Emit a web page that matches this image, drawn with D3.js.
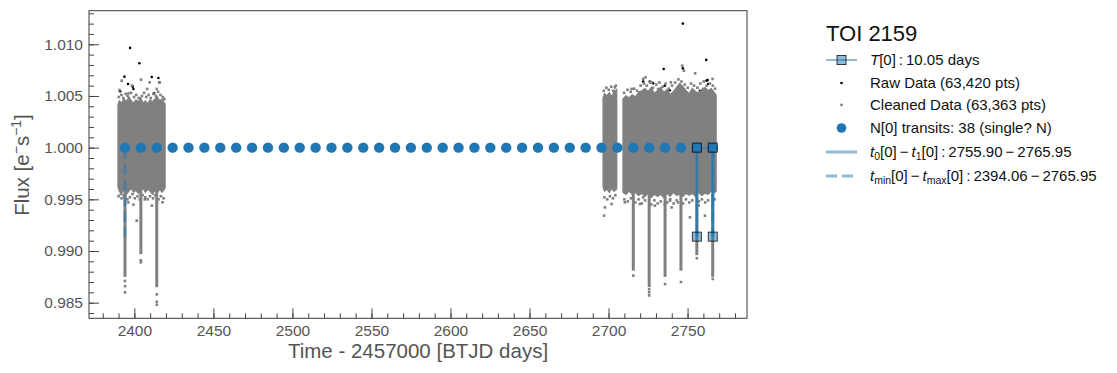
<!DOCTYPE html>
<html><head><meta charset="utf-8">
<script src="https://cdn.jsdelivr.net/npm/d3@7/dist/d3.min.js"></script>
<style>
body{margin:0;background:#fff;}
svg{display:block;font-family:"Liberation Sans",Arial,sans-serif;}
</style></head>
<body><svg id="c" width="1117" height="373"></svg>
<script>
// ---------------- data ----------------
const xTicks = [2400, 2450, 2500, 2550, 2600, 2650, 2700, 2750];
const yTicks = [0.985, 0.990, 0.995, 1.000, 1.005, 1.010];
const yTickLabels = ["0.985", "0.990", "0.995", "1.000", "1.005", "1.010"];

// envelope of the dense cleaned-data band (segment id, time, upper, lower)
const bandSeg = [0,0,0,0,0,0,0,0,0,0,0,0,0,0,0,0,0,0,0,0,0,
  1,1,1,1,1,1,1,
  2,2,2,2,2,2,2,2,2,2,2,2,2,2,2,2,2,2,2,2,2,2,2,2,2,2,2,2,2,2,2];
const bandT = [2389.7,2390.5,2392,2393.5,2395,2396.5,2398,2399.5,2401,2402.5,2404,2405.5,2407,2408.5,2410,2411.5,2413,2414.5,2416,2417.5,2419.4,
  2696.6,2697.5,2699,2700.5,2702,2703.5,2705.1,
  2709.2,2711,2713,2715,2717,2719,2721,2723,2725,2727,2729,2731,2733,2735,2737,2739,2741,2743,2745,2747,2749,2751,2753,2755,2757,2759,2761,2763,2765,2766.5,2768];
const bandHi = [1.0041,1.0045,1.0043,1.0047,1.0044,1.0049,1.0045,1.0043,1.0046,1.0044,1.0048,1.0043,1.0045,1.0042,1.0046,1.0044,1.0047,1.0049,1.0045,1.0047,1.0042,
  1.0048,1.0052,1.0050,1.0053,1.0049,1.0054,1.0056,
  1.0047,1.0050,1.0048,1.0051,1.0049,1.0053,1.0055,1.0057,1.0054,1.0058,1.0052,1.0055,1.0058,1.0053,1.0056,1.0051,1.0054,1.0058,1.0062,1.0059,1.0055,1.0052,1.0057,1.0054,1.0053,1.0056,1.0058,1.0055,1.0057,1.0054,1.0051];
const bandLo = [0.9962,0.9958,0.9956,0.9960,0.9955,0.9958,0.9961,0.9957,0.9959,0.9956,0.9958,0.9961,0.9957,0.9960,0.9958,0.9955,0.9959,0.9956,0.9960,0.9957,0.9961,
  0.9962,0.9958,0.9960,0.9957,0.9961,0.9958,0.9960,
  0.9957,0.9955,0.9958,0.9955,0.9957,0.9954,0.9956,0.9953,0.9956,0.9952,0.9955,0.9953,0.9955,0.9952,0.9956,0.9953,0.9957,0.9954,0.9955,0.9953,0.9956,0.9954,0.9956,0.9953,0.9957,0.9954,0.9956,0.9955,0.9958,0.9956,0.9958];

// transit dips visible in the cleaned data
const dipT   = [2394.06, 2404.11, 2414.16, 2715.66, 2725.71, 2735.76, 2745.81, 2755.86, 2765.91];
const dipTop = [0.9960, 0.9960, 0.9960, 0.9956, 0.9956, 0.9956, 0.9956, 0.9956, 0.9956];
const dipLow = [0.9875, 0.9897, 0.9865, 0.9881, 0.9865, 0.9875, 0.9881, 0.9896, 0.9875];

// scattered cleaned points outside the dense band
const cleanT = [2394.1,2394.1,2394.0,2404.1,2404.1,2414.2,2414.2,2414.2,
  2411.1,2414.2,2417.8,2399.4,2401.5,2391.4,2406.6,2396.2,
  2392.0,2398.4,2404.2,2409.7,2415.8,2414.2,2408.1,2396.3,2390.6,
  2721.9,2723.4,2727.2,2731.4,2739.4,2746.6,2747.7,2754.8,2759.9,2765.8,2704.0,2697.7,2714.6,2719.8,
  2697.2,2697.7,2701.9,2710.3,2719.8,2729.3,2739.9,2751.5,2761.0,2738.8,2721.9,2735.6,2744.0,2757.0,
  2715.66,2725.71,2725.71,2725.71,2735.76,2745.81,2765.91,2765.91,2755.86];
const cleanV = [0.9860,0.9866,0.9871,0.9889,0.9891,0.9848,0.9851,0.9858,
  0.99439,0.99455,0.99471,0.99448,0.99294,0.99552,0.9950,0.9947,
  1.00648,1.0060,1.00658,1.00632,1.00629,1.00568,1.00568,1.00525,1.00558,
  1.00665,1.0068,1.00632,1.00568,1.00632,1.00793,1.00745,1.00719,1.00568,1.00665,1.00583,1.00487,1.00568,1.00535,
  0.99342,0.99422,0.99455,0.99471,0.99455,0.99439,0.99422,0.99326,0.99342,0.99487,0.99519,0.9945,0.9947,0.9944,
  0.98762,0.9857,0.9860,0.9863,0.9868,0.9870,0.9873,0.9878,0.9893];

// fringe of cleaned points along the band edges
const fringeT = [2390.2,2391.8,2393.0,2394.5,2395.7,2397.9,2399.8,2401.2,2402.7,2404.8,2406.1,2407.5,2409.0,2410.4,2412.0,2413.6,2415.0,2416.5,2418.0,2419.0,
  2390.0,2391.9,2393.2,2395.6,2397.2,2398.8,2400.3,2402.0,2403.4,2405.2,2406.9,2408.4,2409.9,2411.8,2413.1,2415.3,2416.8,2418.5,
  2697.0,2698.6,2700.1,2701.7,2703.0,2704.6,2709.8,2712.0,2714.0,2716.2,2718.1,2720.3,2722.4,2724.2,2726.3,2728.1,2730.2,2732.2,2734.2,2736.1,2738.1,2740.2,2742.1,2744.2,2746.1,2748.2,2750.1,2752.2,2754.1,2756.2,2758.1,2760.2,2762.1,2764.1,2766.0,2767.4,
  2697.4,2699.2,2700.9,2702.8,2704.3,2710.0,2712.2,2714.1,2717.0,2719.0,2721.0,2723.1,2727.0,2729.0,2731.1,2733.0,2737.1,2739.0,2741.2,2743.1,2747.1,2749.0,2751.1,2753.0,2757.2,2759.1,2761.2,2763.0,2767.1];
const fringeV = [1.0049,1.0051,1.0048,1.0052,1.0050,1.0053,1.0049,1.0051,1.0048,1.0050,1.0053,1.0049,1.0051,1.0048,1.0052,1.0050,1.0054,1.0051,1.0049,1.0047,
  0.9953,0.9951,0.9954,0.9950,0.9952,0.9955,0.9951,0.9953,0.9950,0.9954,0.9952,0.9950,0.9953,0.9951,0.9954,0.9950,0.9953,0.9951,
  1.0055,1.0058,1.0056,1.0059,1.0055,1.0060,1.0053,1.0056,1.0054,1.0057,1.0055,1.0060,1.0062,1.0060,1.0063,1.0058,1.0061,1.0063,1.0059,1.0062,1.0057,1.0060,1.0063,1.0066,1.0064,1.0061,1.0058,1.0062,1.0060,1.0058,1.0062,1.0064,1.0060,1.0062,1.0060,1.0057,
  0.9952,0.9950,0.9953,0.9951,0.9954,0.9950,0.9948,0.9951,0.9947,0.9950,0.9946,0.9949,0.9945,0.9949,0.9946,0.9948,0.9947,0.9950,0.9946,0.9949,0.9946,0.9950,0.9947,0.9949,0.9948,0.9950,0.9947,0.9949,0.9950];

// raw-only points (removed during cleaning)
const rawT = [2397.3,2403.2,2393.7,2391.0,2411.0,2415.2,2415.8,2396.0,2399.0,2399.4,2412.5,
  2747.0,2761.8,2734.9,2747.0,2762.7,2721.9,2726.1,2728.2,2735.6,2738.7,2724.5,2732.9,2757.8,2762.0,2763.0,2760.8];
const rawV = [1.00965,1.00816,1.00687,1.00545,1.00684,1.00674,1.00632,1.00616,1.0059,1.00568,1.00525,
  1.0120,1.00849,1.00761,1.00767,1.00655,1.00639,1.00639,1.00622,1.0060,1.00556,1.00516,1.00513,1.00551,1.00648,1.00616,1.00487];

// predicted transit times (38)
const transits = [2394.06,2404.11,2414.16,2424.21,2434.26,2444.31,2454.36,2464.41,2474.46,2484.51,
  2494.56,2504.61,2514.66,2524.71,2534.76,2544.81,2554.86,2564.91,2574.96,2585.01,
  2595.06,2605.11,2615.16,2625.21,2635.26,2645.31,2655.36,2665.41,2675.46,2685.51,
  2695.56,2705.61,2715.66,2725.71,2735.76,2745.81,2755.86,2765.91];
const transitFlux = 1.000;

// period marker path, t0/t1 lines, tmin/tmax lines
const periodT = [2755.90, 2755.90, 2765.95, 2765.95];
const periodV = [0.99139, 1.000, 1.000, 0.99139];
const t01 = [2755.90, 2765.95];
const tMinMax = [2394.06, 2765.95];
const lineTop = 1.000, lineBottom = 0.99139;

// ---------------- drawing ----------------
const svg = d3.select("#c");
const L = 89, R = 747, T = 10.7, B = 318.3;
const x = d3.scaleLinear().domain([2371.3, 2787.6]).range([L, R]);
const y = d3.scaleLinear().domain([0.98349, 1.01325]).range([B, T]);
const blue = "#1f77b4", blueA = "rgba(31,119,180,0.5)";

svg.append("defs").append("clipPath").attr("id","clip")
  .append("rect").attr("x",L).attr("y",T).attr("width",R-L).attr("height",B-T);
const g = svg.append("g").attr("clip-path","url(#clip)");

// raw points
g.append("g").selectAll("circle").data(d3.range(rawT.length)).join("circle")
  .attr("cx", i => x(rawT[i])).attr("cy", i => y(rawV[i])).attr("r", 1.3).attr("fill", "#000");

// band
const area = d3.area().x(d => x(d.t)).y0(d => y(d.lo)).y1(d => y(d.hi));
const bandPts = d3.range(bandT.length).map(i => ({s: bandSeg[i], t: bandT[i], hi: bandHi[i], lo: bandLo[i]}));
d3.groups(bandPts, d => d.s).forEach(([s, pts]) => {
  g.append("path").attr("d", area(pts)).attr("fill", "#808080").attr("stroke", "#808080").attr("stroke-width", 1.5);
});
// dips
g.append("g").selectAll("rect").data(d3.range(dipT.length)).join("rect")
  .attr("x", i => x(dipT[i]) - 1.5).attr("width", 3)
  .attr("y", i => y(dipTop[i])).attr("height", i => y(dipLow[i]) - y(dipTop[i]))
  .attr("fill", "#808080");
// scattered cleaned points
const sq = (T_, V_) => g.append("g").selectAll("rect").data(d3.range(T_.length)).join("rect")
  .attr("x", i => x(T_[i]) - 1.3).attr("y", i => y(V_[i]) - 1.3)
  .attr("width", 2.6).attr("height", 2.6).attr("fill", "#808080");
sq(cleanT, cleanV);
sq(fringeT, fringeV);

// tmin/tmax dashed and t0/t1 solid lines
g.append("g").selectAll("line").data(tMinMax).join("line")
  .attr("x1", d => x(d)).attr("x2", d => x(d)).attr("y1", y(lineTop)).attr("y2", y(lineBottom))
  .attr("stroke", blueA).attr("stroke-width", 3).attr("stroke-dasharray", "11.1,4.8");
g.append("g").selectAll("line").data(t01).join("line")
  .attr("x1", d => x(d)).attr("x2", d => x(d)).attr("y1", y(lineTop)).attr("y2", y(lineBottom))
  .attr("stroke", blueA).attr("stroke-width", 3);

// transit circles
g.append("g").selectAll("circle").data(transits).join("circle")
  .attr("cx", d => x(d)).attr("cy", y(transitFlux)).attr("r", 5.2).attr("fill", blue);

// period path with square markers
const pp = d3.range(periodT.length).map(i => [x(periodT[i]), y(periodV[i])]);
g.append("path").attr("d", d3.line()(pp)).attr("fill", "none").attr("stroke", blueA).attr("stroke-width", 2);
g.append("g").selectAll("rect").data(pp).join("rect")
  .attr("x", d => d[0] - 4.5).attr("y", d => d[1] - 4.5).attr("width", 9).attr("height", 9)
  .attr("fill", blueA).attr("stroke", "rgba(0,0,0,0.75)").attr("stroke-width", 1);

// axes
const tickCol = "#444", labCol = "#555";
const xAxis = d3.axisBottom(x).tickValues(xTicks).tickFormat(d3.format("d")).tickSizeInner(-10).tickSizeOuter(0).tickPadding(7);
const xMinor = d3.axisBottom(x).tickValues(d3.range(2380, 2790, 10)).tickFormat("").tickSizeInner(-5).tickSizeOuter(0);
const yAxis = d3.axisLeft(y).tickValues(yTicks).tickFormat((d,i) => yTickLabels[i]).tickSizeInner(-10).tickSizeOuter(0).tickPadding(6);
const yMinor = d3.axisLeft(y).tickValues(d3.range(984, 1014).map(v => v / 1000)).tickFormat("").tickSizeInner(-5).tickSizeOuter(0);

function style(sel){
  sel.select(".domain").remove();
  sel.selectAll("line").attr("stroke", tickCol).attr("stroke-width", 1);
  sel.selectAll("text").attr("fill", labCol).attr("font-size", 15.5).attr("font-family", '"Liberation Sans",Arial,sans-serif');
}
svg.append("g").attr("transform", `translate(0,${B})`).call(xMinor).call(style);
svg.append("g").attr("transform", `translate(0,${B})`).call(xAxis).call(style);
svg.append("g").attr("transform", `translate(${L},0)`).call(yMinor).call(style);
svg.append("g").attr("transform", `translate(${L},0)`).call(yAxis).call(style);

svg.append("rect").attr("x", L).attr("y", T).attr("width", R-L).attr("height", B-T)
  .attr("fill", "none").attr("stroke", "#3a3a3a").attr("stroke-width", 1);

// axis labels
svg.append("text").attr("x", (L+R)/2).attr("y", 358).attr("text-anchor", "middle")
  .attr("font-size", 20.5).attr("fill", labCol).text("Time - 2457000 [BTJD days]");
const yl = svg.append("text").attr("transform", "translate(29,165) rotate(-90)").attr("text-anchor", "middle")
  .attr("font-size", 20.5).attr("fill", labCol);
yl.append("tspan").text("Flux [e");
yl.append("tspan").attr("font-size", 14).attr("dy", -8).text("−");
yl.append("tspan").attr("dy", 8).text("s");
yl.append("tspan").attr("font-size", 14).attr("dy", -8).text("−1");
yl.append("tspan").attr("dy", 8).text("]");

// legend
const lg = svg.append("g");
lg.append("text").attr("x", 826).attr("y", 41).attr("font-size", 22).attr("fill", "#111").text("TOI 2159");
const hx0 = 826, hx1 = 857, hc = 841.5, tx = 870;
const rows = [60, 83, 105, 128, 152, 176];
lg.append("line").attr("x1", hx0).attr("x2", hx1).attr("y1", rows[0]).attr("y2", rows[0]).attr("stroke", blueA).attr("stroke-width", 2);
lg.append("rect").attr("x", hc-4.5).attr("y", rows[0]-4.5).attr("width", 9).attr("height", 9).attr("fill", blueA).attr("stroke", "rgba(0,0,0,0.75)");
lg.append("circle").attr("cx", hc).attr("cy", rows[1]).attr("r", 1.3).attr("fill", "#000");
lg.append("circle").attr("cx", hc).attr("cy", rows[2]).attr("r", 1.4).attr("fill", "#808080");
lg.append("circle").attr("cx", hc).attr("cy", rows[3]).attr("r", 4.8).attr("fill", blue);
lg.append("line").attr("x1", hx0).attr("x2", hx1).attr("y1", rows[4]).attr("y2", rows[4]).attr("stroke", blueA).attr("stroke-width", 3);
lg.append("line").attr("x1", hx0).attr("x2", hx1).attr("y1", rows[5]).attr("y2", rows[5]).attr("stroke", blueA).attr("stroke-width", 3).attr("stroke-dasharray", "11.1,4.8");

const fs = 15;
function ltext(row){ return lg.append("text").attr("x", tx).attr("y", rows[row] + 5.3).attr("font-size", fs).attr("fill", "#111"); }
let t1 = ltext(0);
t1.append("tspan").attr("font-style", "italic").text("T");
t1.append("tspan").text("[0]\u2009:\u200910.05 days");
ltext(1).text("Raw Data (63,420 pts)");
ltext(2).text("Cleaned Data (63,363 pts)");
ltext(3).text("N[0] transits: 38 (single? N)");
let t5 = ltext(4);
t5.append("tspan").attr("font-style", "italic").text("t");
t5.append("tspan").attr("font-size", 10.5).attr("dy", 3).text("0");
t5.append("tspan").attr("dy", -3).text("[0]\u2009−\u2009");
t5.append("tspan").attr("font-style", "italic").text("t");
t5.append("tspan").attr("font-size", 10.5).attr("dy", 3).text("1");
t5.append("tspan").attr("dy", -3).text("[0]\u2009:\u20092755.90\u2009−\u20092765.95");
let t6 = ltext(5);
t6.append("tspan").attr("font-style", "italic").text("t");
t6.append("tspan").attr("font-size", 10.5).attr("dy", 3).text("min");
t6.append("tspan").attr("dy", -3).text("[0]\u2009−\u2009");
t6.append("tspan").attr("font-style", "italic").text("t");
t6.append("tspan").attr("font-size", 10.5).attr("dy", 3).text("max");
t6.append("tspan").attr("dy", -3).text("[0]\u2009:\u20092394.06\u2009−\u20092765.95");
</script></body></html>
